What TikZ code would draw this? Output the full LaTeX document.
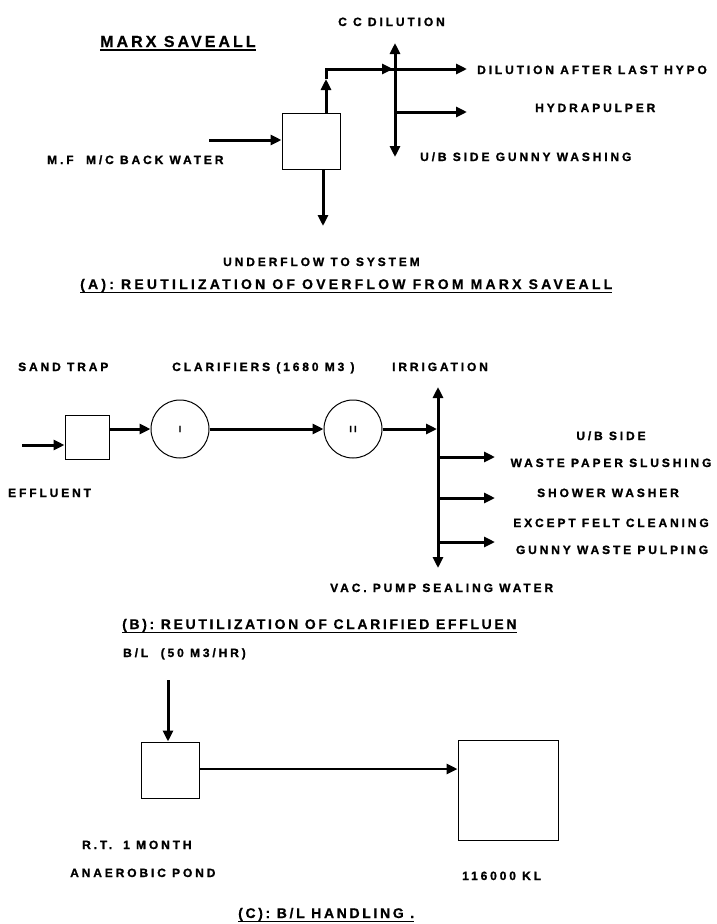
\documentclass[tikz,border=0pt]{standalone}
\usepackage{fontspec}
\setmainfont{Liberation Sans}
\newfontfamily\lblfont[LetterSpace=24,FakeBold=1.2]{Liberation Sans Bold}
\newfontfamily\ttlfont[LetterSpace=23,FakeBold=0.6]{Liberation Sans Bold}
\newfontfamily\ttlbfont[LetterSpace=19,FakeBold=0.6]{Liberation Sans Bold}
\usetikzlibrary{arrows.meta}
\tikzset{
  lbl/.style={font=\lblfont\fontsize{12}{13}\selectfont, inner sep=0pt, anchor=base west},
  rlbl/.style={lbl, anchor=base},
  ttl/.style={font=\ttlfont\fontsize{14}{16}\selectfont, inner sep=0pt, anchor=base west},
  ttlb/.style={font=\ttlbfont\fontsize{14}{16}\selectfont, inner sep=0pt, anchor=base west},
  bigttl/.style={font=\ttlbfont\fontsize{16}{18}\selectfont, inner sep=0pt, anchor=base west},
  uline/.style={line width=1.3pt},
  tip/.tip={Triangle[length=11pt,width=10pt]},
  flow/.style={line width=3pt, -tip},
  dflow/.style={line width=3pt, tip-tip},
  pipe/.style={line width=3pt},
  tank/.style={draw, line width=1pt, minimum width=58pt, minimum height=56pt, inner sep=0pt},
  clar/.style={draw, circle, line width=1pt, minimum size=58pt, inner sep=0pt,
               font=\lblfont\fontsize{9}{10}\selectfont},
}
\begin{document}
\begin{tikzpicture}[x=1pt, y=-1pt]
\useasboundingbox (0,0) rectangle (716,924);
\fill[white] (0,0) rectangle (716,924);

% ---------------- (A) ----------------
\node[bigttl] (marx) at (100,47) {MARX SAVEALL};
\draw[uline] ([yshift=-3pt]marx.base west) -- ([yshift=-3pt]marx.base east);

\node[tank] (sav) at (311,141) {};
\coordinate (mfin) at (209,140);
\draw[flow] (mfin) -- (mfin -| sav.west);
\coordinate (uf) at (323,226);
\draw[flow] (uf |- sav.south) -- (uf);
\coordinate (ovtip) at (326,79);
\coordinate (corner) at (326,69);
\coordinate (cross) at (395,69);
\coordinate (crossin) at (393,69);
\coordinate (dal) at (467,69);
\coordinate (ccd) at (395,43);
\coordinate (ubs) at (395,157);
\coordinate (hj) at (395,112);
\coordinate (hyd) at (467,112);
\draw[flow] (ovtip |- sav.north) -- (ovtip);
\draw[pipe] (ovtip) -- (corner) -- (cross);
\draw[flow] (corner) -- (crossin);
\draw[flow] (cross) -- (dal);
\draw[dflow] (ubs) -- (ccd);
\draw[flow] (hj) -- (hyd);

\node[lbl] (lccd) at (338,26) {C C DILUTION};
\node[lbl] (ldal) at (477,74) {DILUTION AFTER LAST HYPO};
\node[lbl] (lhyd) at (535,112) {HYDRAPULPER};
\node[lbl] (lubs) at (420,161) {U/B SIDE GUNNY WASHING};
\node[lbl] (lmf) at (47,164) {M.F \ M/C BACK WATER};
\node[lbl] (luf) at (223,266) {UNDERFLOW TO SYSTEM};
\node[ttl] (ttla) at (80,289) {(A): REUTILIZATION OF OVERFLOW FROM MARX SAVEALL};
\draw[uline] ([yshift=-3.5pt]ttla.base west) -- ([yshift=-3.5pt]ttla.base east);

% ---------------- (B) ----------------
\node[lbl] (lsand) at (18,371) {SAND TRAP};
\node[lbl] (lclar) at (172,371) {CLARIFIERS (1680 M3 )};
\node[lbl] (lirr) at (392,371) {IRRIGATION};

\node[tank, minimum width=44pt, minimum height=44pt] (trap) at (87,437) {};
\coordinate (eff) at (22,445);
\draw[flow] (eff) -- (eff -| trap.west);
\node[clar] (c1) at (180,429) {I};
\node[clar] (c2) at (353,429) {II};
\draw[flow] ([yshift=8pt]trap.east) -- (c1.west);
\draw[flow] (c1) -- (c2);
\coordinate (hdr) at (437,429);
\draw[flow] (c2) -- (hdr);
\coordinate (irr) at (438,387);
\coordinate (vac) at (438,568);
\draw[dflow] (vac) -- (irr);
\coordinate (b1) at (438,457); \coordinate (e1) at (495,457);
\coordinate (b2) at (438,498); \coordinate (e2) at (495,498);
\coordinate (b3) at (438,542); \coordinate (e3) at (495,542);
\draw[flow] (b1) -- (e1);
\draw[flow] (b2) -- (e2);
\draw[flow] (b3) -- (e3);

\node[lbl] (leff) at (8,497) {EFFLUENT};
\node[rlbl] (lub) at (611,440) {U/B SIDE};
\node[rlbl] (lwp) at (611,467) {WASTE PAPER SLUSHING};
\node[rlbl] (lsw) at (608,497) {SHOWER WASHER};
\node[rlbl] (lef) at (611,527) {EXCEPT FELT CLEANING};
\node[rlbl] (lgw) at (612,554) {GUNNY WASTE PULPING};
\node[lbl] (lvac) at (330,592) {VAC. PUMP SEALING WATER};
\node[ttlb] (ttlb) at (122,629) {(B): REUTILIZATION OF CLARIFIED EFFLUEN};
\draw[uline] ([yshift=-3.5pt]ttlb.base west) -- ([yshift=-3.5pt]ttlb.base east);

% ---------------- (C) ----------------
\node[lbl] (lbl50) at (123,657) {B/L \ (50 M3/HR)};
\node[tank] (pond) at (170,770) {};
\coordinate (blin) at (168,680);
\draw[flow] (blin) -- (blin |- pond.north);
\node[tank, minimum width=100pt, minimum height=100pt] (big) at (508,790) {};
\draw[flow, line width=2.6pt] ([yshift=1pt]pond.east) -- ([yshift=1pt]pond.east -| big.west);

\node[lbl] (lrt) at (82,849) {R.T.};
\node[lbl] (lmon) at (123,849) {1 MONTH};
\node[lbl] (lana) at (70,877) {ANAEROBIC POND};
\node[lbl] (lkl) at (462,880) {116000 KL};
\node[ttlb] (ttlc) at (238,918) {(C): B/L HANDLING .};
\draw[uline] ([yshift=-3.5pt]ttlc.base west) -- ([yshift=-3.5pt]ttlc.base east);
\end{tikzpicture}
\end{document}
